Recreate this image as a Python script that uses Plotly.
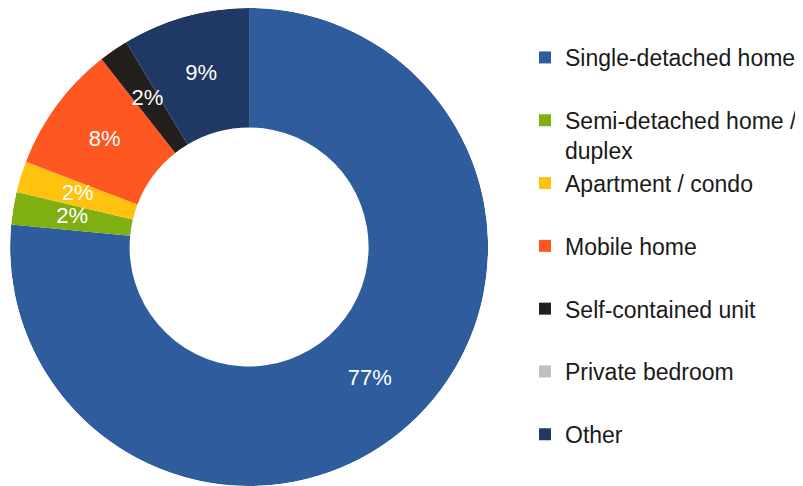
"""Donut chart of dwelling types."""

import numpy as np
import plotly.graph_objects as go


# Dwelling type categories (clockwise from 12 o'clock)
CATEGORIES = [
    "Single-detached home",
    "Semi-detached home /<br>duplex",
    "Apartment / condo",
    "Mobile home",
    "Self-contained unit",
    "Private bedroom",
    "Other",
]

# Share of respondents (%)
SHARES = [76.5, 2.2, 2.1, 8.6, 2.0, 0.0, 8.6]

# Labels as printed on the slices
SLICE_LABELS = ["77%", "2%", "2%", "8%", "2%", "", "9%"]

COLORS = ["#2E5C9C", "#7FAF13", "#FFC20E", "#FF5722", "#231F1C", "#BFBFBF", "#1F3864"]

FONT = "Liberation Sans, Arial, sans-serif"
HOLE = 0.5
DOMAIN_X = [0, 0.6053]


shares = np.array(SHARES)
widths = shares / shares.sum() * 360
mid_theta = np.cumsum(widths) - widths / 2

fig = go.Figure()

# Ring segments, one trace per category so each gets its own legend entry
for name, width, theta, color in zip(CATEGORIES, widths, mid_theta, COLORS):
    # Pad single-line legend entries to two lines so every entry has the same height
    legend_name = name if "<br>" in name else name + "<br> "
    fig.add_trace(
        go.Barpolar(
            r=[1 - HOLE],
            base=[HOLE],
            theta=[theta],
            width=[width],
            name=legend_name,
            marker=dict(color=color, line=dict(width=0)),
            hovertemplate=f"{name.replace('<br>', ' ')}<extra></extra>",
        )
    )

# Slice labels at mid-ring
fig.add_trace(
    go.Scatterpolar(
        r=[(1 + HOLE) / 2] * len(SHARES),
        theta=mid_theta,
        mode="text",
        text=SLICE_LABELS,
        textposition="middle center",
        textfont=dict(color="white", size=22, family=FONT),
        showlegend=False,
        hoverinfo="skip",
    )
)

fig.update_layout(
    width=795,
    height=478,
    margin=dict(l=2, r=0, t=0, b=0),
    paper_bgcolor="white",
    plot_bgcolor="white",
    font=dict(family=FONT, color="#1a1a1a"),
    showlegend=True,
    polar=dict(
        domain=dict(x=DOMAIN_X, y=[0, 1]),
        bgcolor="rgba(0,0,0,0)",
        bargap=0,
        radialaxis=dict(range=[0, 1], visible=False),
        angularaxis=dict(
            rotation=90,
            direction="clockwise",
            visible=False,
        ),
    ),
    legend=dict(
        x=0.652,
        xanchor="left",
        y=0.941,
        yanchor="top",
        valign="top",
        font=dict(size=23, color="#1a1a1a"),
        traceorder="normal",
        tracegroupgap=0,
    ),
)

fig.write_html("out.html")
